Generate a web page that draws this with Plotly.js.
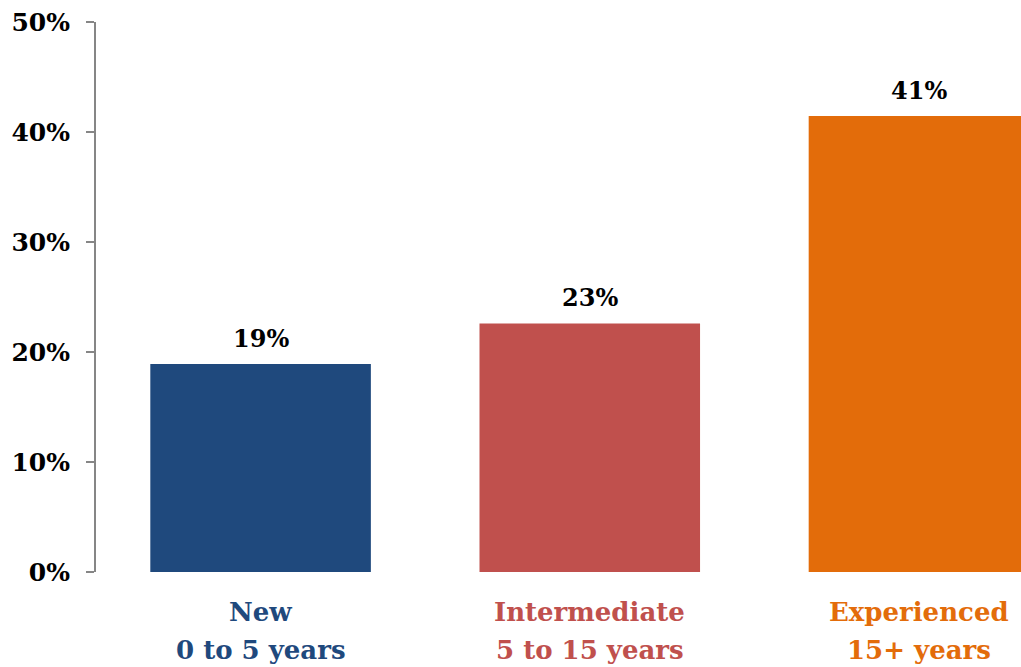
<!DOCTYPE html>
<html><head><meta charset="utf-8">
<script src="https://cdn.plot.ly/plotly-3.0.1.min.js"></script>
<style>html,body{margin:0;padding:0;background:#fff}#c{width:1021px;height:667px}</style>
</head><body><div id="c"></div>
<script>
var categories = ["New", "Intermediate", "Experienced"];
var subLabels = ["0 to 5 years", "5 to 15 years", "15+ years"];
var values = [18.9, 22.6, 41.45];
var valueLabels = ["19%", "23%", "41%"];
var barColors = ["#1F497D", "#C0504D", "#E36C0A"];
var yTickVals = [0, 10, 20, 30, 40, 50];
var yTickText = ["0%", "10%", "20%", "30%", "40%", "50%"];

var FONT = "DejaVu Serif, serif";
var x = [0, 1, 2];

var trace = {
  type: "bar", x: x, y: values, width: 0.67,
  marker: { color: barColors, line: { width: 0 } },
  hoverinfo: "none", cliponaxis: true
};

var annotations = values.map(function (v, i) {
  return {
    x: x[i], y: v, xref: "x", yref: "y", text: "<b>" + valueLabels[i] + "</b>",
    showarrow: false, yanchor: "middle", yshift: 26,
    font: { family: FONT, size: 24, color: "#000" }
  };
});
categories.forEach(function (c, i) {
  annotations.push({
    x: x[i], y: 0, xref: "x", yref: "y", text: "<b>" + c + "</b>",
    showarrow: false, yanchor: "middle", yshift: -40,
    font: { family: FONT, size: 26, color: barColors[i] }
  });
  annotations.push({
    x: x[i], y: 0, xref: "x", yref: "y", text: "<b>" + subLabels[i] + "</b>",
    showarrow: false, yanchor: "middle", yshift: -78,
    font: { family: FONT, size: 26, color: barColors[i] }
  });
});

var layout = {
  width: 1021, height: 667,
  margin: { l: 96, r: 0, t: 22, b: 95, pad: 0 },
  paper_bgcolor: "#fff", plot_bgcolor: "#fff",
  showlegend: false,
  xaxis: {
    range: [-0.5, 2.31], tickvals: x, showticklabels: false,
    showline: false, showgrid: false, zeroline: false, ticks: "",
    automargin: false
  },
  yaxis: {
    range: [0, 50], tickvals: yTickVals, ticktext: yTickText,
    showline: true, linecolor: "#868686", linewidth: 2,
    ticks: "outside", ticklen: 8, tickcolor: "#868686", tickwidth: 2,
    showgrid: false, zeroline: false,
    tickfont: { family: FONT, size: 25, color: "#000", weight: "bold" },
    ticklabelstandoff: 11, automargin: false
  },
  annotations: annotations
};

Plotly.newPlot("c", [trace], layout, { displayModeBar: false, staticPlot: true });
</script></body></html>
